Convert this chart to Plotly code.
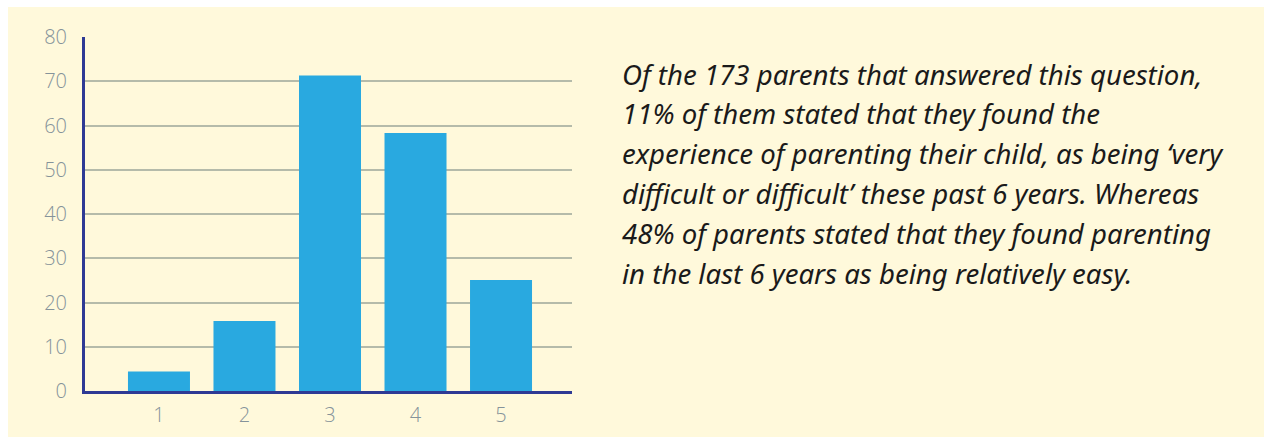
import plotly.graph_objects as go

categories = [1, 2, 3, 4, 5]
values = [4.4, 15.8, 71.3, 58.3, 25.1]
y_ticks = [0, 10, 20, 30, 40, 50, 60, 70, 80]
text_lines = [
    "Of the 173 parents that answered this question,",
    "11% of them stated that they found the",
    "experience of parenting their child, as being \u2018very",
    "difficult or difficult\u2019 these past 6 years. Whereas",
    "48% of parents stated that they found parenting",
    "in the last 6 years as being relatively easy.",
]

W, H = 1264, 437
L, R, T, B = 85, 572, 37, 391

def px_x(x):
    return (x - L) / (R - L)

def px_y(y):
    return (B - y) / (B - T)

fig = go.Figure()
fig.add_trace(go.Bar(x=categories, y=values, marker=dict(color="#29A9E0", line=dict(width=0)),
                     hoverinfo="skip"))

annotations = []
for i, line in enumerate(text_lines):
    annotations.append(dict(
        text=line, xref="paper", yref="paper",
        x=px_x(620), y=px_y(73.5 + i * 39.8),
        xanchor="left", yanchor="middle", showarrow=False,
        font=dict(family="Noto Sans", size=27.6, color="#1A1A1A", style="italic"),
        align="left",
    ))

tick_font = dict(family="Open Sans", size=20, color="#85939A", weight=300)

fig.update_layout(
    width=W, height=H,
    margin=dict(l=L, r=W - R, t=T, b=H - B, pad=0, autoexpand=False),
    paper_bgcolor="white",
    plot_bgcolor="rgba(0,0,0,0)",
    showlegend=False,
    bargap=0.275,
    shapes=[dict(type="rect", xref="paper", yref="paper", layer="below",
                 x0=px_x(8), x1=px_x(W + 5), y0=px_y(H + 5), y1=px_y(7),
                 fillcolor="#FFF9DB", line=dict(width=0))],
    annotations=annotations,
    xaxis=dict(
        range=[0.135, 5.83], tickmode="array", tickvals=categories,
        ticktext=[str(c) for c in categories],
        showgrid=False, zeroline=False, automargin=False,
        showline=True, linecolor="#2E3A94", linewidth=3,
        ticks="", ticklabelstandoff=4,
        tickfont=tick_font,
    ),
    yaxis=dict(
        range=[0, 80], tickmode="array", tickvals=y_ticks,
        showgrid=True, gridcolor="#B5BBAA", gridwidth=2,
        zeroline=False, automargin=False,
        showline=True, linecolor="#2E3A94", linewidth=3,
        ticks="", ticklabelstandoff=11,
        tickfont=tick_font,
    ),
)

fig.write_html(
    "out.html",
    config={"displayModeBar": False},
    post_script="document.body.style.margin='0';document.body.style.overflow='hidden';",
)
